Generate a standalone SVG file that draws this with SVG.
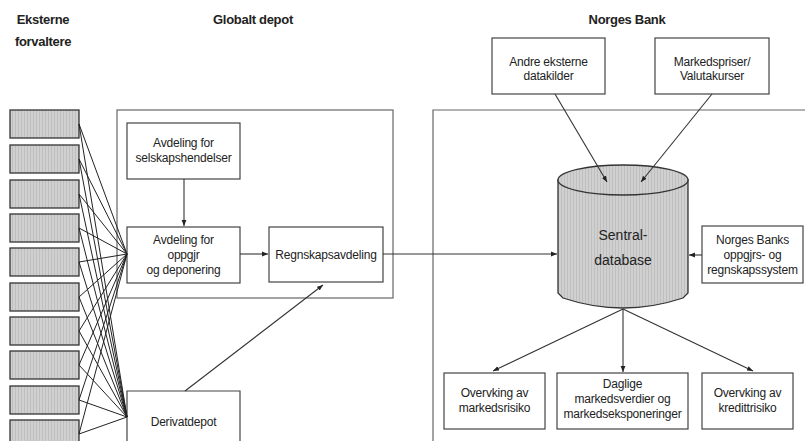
<svg xmlns="http://www.w3.org/2000/svg" width="805" height="441" viewBox="0 0 805 441">
<defs>
<pattern id="stripe" width="3" height="4" patternUnits="userSpaceOnUse">
<rect width="3" height="4" fill="#d0d0d0"/>
<rect width="1" height="4" fill="#bfbfbf"/>
</pattern>
<marker id="ah" viewBox="0 0 10 10" refX="10" refY="5" markerWidth="6" markerHeight="6" orient="auto" markerUnits="userSpaceOnUse">
<path d="M0,1 L10,5 L0,9 z" fill="#222"/>
</marker>
</defs>
<style>
.frame{fill:none;stroke:#666;stroke-width:1.2}
.box{fill:#fff;stroke:#444;stroke-width:1.2}
.ext{fill:url(#stripe);stroke:#333;stroke-width:1.3}
.ln{fill:none;stroke:#222;stroke-width:1}
.arr{fill:none;stroke:#333;stroke-width:1.1;marker-end:url(#ah)}
text{font-family:"Liberation Sans",Arial,sans-serif;fill:#222;text-anchor:middle}
.h{font-size:13px;font-weight:bold;letter-spacing:-0.3px}
.t{font-size:12px;letter-spacing:-0.2px}
.db{font-size:14px}
</style>

<g id="headers">
<text class="h" x="43" y="24">Eksterne</text>
<text class="h" x="43" y="46">forvaltere</text>
<text class="h" x="253" y="24">Globalt depot</text>
<text class="h" x="627" y="24">Norges Bank</text>
</g>

<g id="frames">
<rect class="frame" x="117" y="110" width="276" height="188"/>
<path class="frame" d="M433,441 L433,110 L805,110"/>
</g>

<g id="eksterne">
<rect class="ext" x="10" y="110" width="69" height="28"/>
<rect class="ext" x="10" y="145" width="69" height="28"/>
<rect class="ext" x="10" y="180" width="69" height="28"/>
<rect class="ext" x="10" y="214" width="69" height="28"/>
<rect class="ext" x="10" y="248" width="69" height="28"/>
<rect class="ext" x="10" y="283" width="69" height="28"/>
<rect class="ext" x="10" y="317" width="69" height="28"/>
<rect class="ext" x="10" y="351" width="69" height="28"/>
<rect class="ext" x="10" y="386" width="69" height="28"/>
<rect class="ext" x="10" y="420" width="69" height="28"/>
</g>

<g id="selskapshendelser">
<rect class="box" x="127" y="123" width="113" height="56"/>
<text class="t" x="183.5" y="147">Avdeling for</text>
<text class="t" x="183.5" y="162">selskapshendelser</text>
</g>

<g id="oppgjr">
<rect class="box" x="127" y="227" width="113" height="56"/>
<text class="t" x="183.5" y="244">Avdeling for</text>
<text class="t" x="183.5" y="259">oppgjr</text>
<text class="t" x="183.5" y="274">og deponering</text>
</g>

<g id="regnskap">
<rect class="box" x="269" y="227" width="114" height="55"/>
<text class="t" x="326" y="259">Regnskapsavdeling</text>
</g>

<g id="derivat">
<path class="box" d="M127,445 L127,391 L240,391 L240,445"/>
<text class="t" x="183.5" y="426">Derivatdepot</text>
</g>

<g id="andre">
<rect class="box" x="492" y="38" width="113" height="56"/>
<text class="t" x="548.5" y="66">Andre eksterne</text>
<text class="t" x="548.5" y="80">datakilder</text>
</g>

<g id="markedspriser">
<rect class="box" x="655" y="38" width="114" height="56"/>
<text class="t" x="712" y="66">Markedspriser/</text>
<text class="t" x="712" y="80">Valutakurser</text>
</g>

<g id="database">
<path d="M558,180 L558,293 L563,298 Q623,318 683,298 L688,293 L688,180 Z" fill="url(#stripe)" stroke="#333" stroke-width="1.3"/>
<ellipse cx="623" cy="180" rx="65" ry="15" fill="url(#stripe)" stroke="#333" stroke-width="1.3"/>
<text class="db" x="623" y="240">Sentral-</text>
<text class="db" x="623" y="265">database</text>
</g>

<g id="nbsystem">
<rect class="box" x="702" y="226" width="101" height="57"/>
<text class="t" x="752.5" y="244">Norges Banks</text>
<text class="t" x="752.5" y="259">oppgjrs- og</text>
<text class="t" x="752.5" y="274">regnskapssystem</text>
</g>

<g id="markedsrisiko">
<rect class="box" x="444" y="373" width="101" height="56"/>
<text class="t" x="494.5" y="397">Overvking av</text>
<text class="t" x="494.5" y="412">markedsrisiko</text>
</g>

<g id="daglige">
<rect class="box" x="557" y="373" width="131" height="56"/>
<text class="t" x="622.5" y="388">Daglige</text>
<text class="t" x="622.5" y="403">markedsverdier og</text>
<text class="t" x="622.5" y="418">markedseksponeringer</text>
</g>

<g id="kredittrisiko">
<rect class="box" x="702" y="373" width="91" height="56"/>
<text class="t" x="747.5" y="397">Overvking av</text>
<text class="t" x="747.5" y="412">kredittrisiko</text>
</g>

<g id="connectors">
<g class="ln">
<path d="M79,124 L127,254 M79,159 L127,254 M79,194 L127,254 M79,228 L127,254 M79,262 L127,254 M79,297 L127,254 M79,331 L127,254 M79,365 L127,254 M79,400 L127,254 M79,434 L127,254"/>
<path d="M79,124 L127,417 M79,159 L127,417 M79,194 L127,417 M79,228 L127,417 M79,262 L127,417 M79,297 L127,417 M79,331 L127,417 M79,365 L127,417 M79,400 L127,417 M79,434 L127,417"/>
</g>
<path class="arr" d="M184,179 L184,226"/>
<path class="arr" d="M240,254 L268,254"/>
<path class="arr" d="M383,254 L557,254"/>
<path class="arr" d="M185,391 L323,285"/>
<path class="arr" d="M555,94 L607,182"/>
<path class="arr" d="M712,94 L641,182"/>
<path class="arr" d="M702,255 L689,255"/>
<path class="arr" d="M623,309 L493,371"/>
<path class="arr" d="M623,309 L623,372"/>
<path class="arr" d="M623,309 L753,371"/>
</g>
</svg>
